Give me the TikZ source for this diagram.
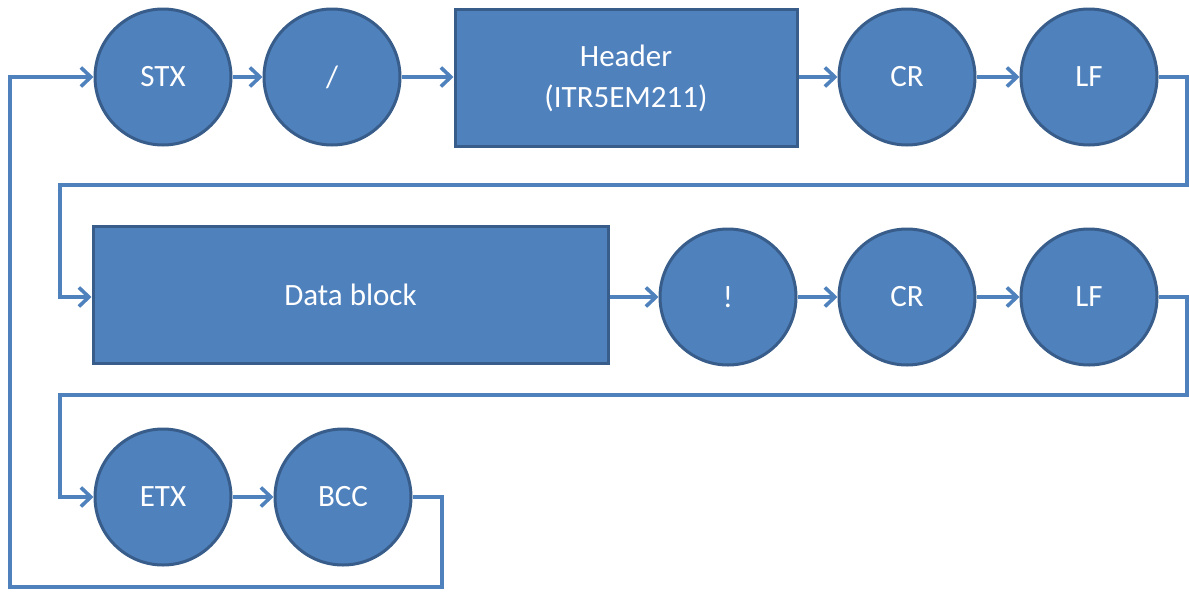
\documentclass[tikz,border=0pt]{standalone}
\usepackage{fontspec}
\setmainfont{Carlito}
\usetikzlibrary{arrows.meta}
\definecolor{boxfill}{HTML}{4F81BD}
\definecolor{boxline}{HTML}{385D8A}
\definecolor{wire}{HTML}{4F81BD}
\begin{document}
\begin{tikzpicture}[x=1pt,y=-1pt,
  token/.style={circle,draw=boxline,fill=boxfill,line width=3pt,
    minimum size=136pt,inner sep=0pt,text=white,font=\fontsize{31}{41}\selectfont},
  block/.style={rectangle,draw=boxline,fill=boxfill,line width=3pt,
    inner sep=0pt,text=white,align=center,font=\fontsize{31}{41}\selectfont},
  flow/.style={draw=wire,line width=3.6pt,-{Straight Barb[length=10pt,width=19pt,line width=3.6pt]}},
  wireline/.style={draw=wire,line width=3.6pt}]
\useasboundingbox (0,0) rectangle (1189,592);

% first row
\node[token] (stx) at (163,77) {STX};
\node[token] (slash) at (332,77) {/};
\node[block,minimum width=342pt,minimum height=137pt] (header) at (626,78)
  {Header\\(ITR5EM211)};
\node[token] (cr1) at (907,77) {CR};
\node[token] (lf1) at (1089,77) {LF};

% second row
\node[block,minimum width=515pt,minimum height=137pt] (data) at (350.5,295) {Data block};
\node[token] (bang) at (728,297) {!};
\node[token] (cr2) at (907,297) {CR};
\node[token] (lf2) at (1089,297) {LF};

% third row
\node[token] (etx) at (163,497) {ETX};
\node[token] (bcc) at (343,497) {BCC};

% turning points of the return wires
\coordinate (r1a) at (1187,77);
\coordinate (r1b) at (1187,185);
\coordinate (r1c) at (60,185);
\coordinate (r1d) at (60,297);
\coordinate (r2a) at (1187,297);
\coordinate (r2b) at (1187,395);
\coordinate (r2c) at (60,395);
\coordinate (r2d) at (60,497);
\coordinate (r3a) at (442,497);
\coordinate (r3b) at (442,587);
\coordinate (r3c) at (10,587);
\coordinate (r3d) at (10,77);

% straight links
\draw[flow] (stx.east) -- (slash.west);
\draw[flow] (slash.east) -- (header.west |- slash.east);
\draw[flow] (header.east |- cr1.west) -- (cr1.west);
\draw[flow] (cr1.east) -- (lf1.west);
\draw[flow] (data.east |- bang.west) -- (bang.west);
\draw[flow] (bang.east) -- (cr2.west);
\draw[flow] (cr2.east) -- (lf2.west);
\draw[flow] (etx.east) -- (bcc.west);

% wrap-around links
\draw[flow] (lf1.east) -- (r1a) -- (r1b) -- (r1c) -- (r1d) -- (data.west |- r1d);
\draw[flow] (lf2.east) -- (r2a) -- (r2b) -- (r2c) -- (r2d) -- (etx.west);
\draw[flow] (bcc.east) -- (r3a) -- (r3b) -- (r3c) -- (r3d) -- (stx.west);
\end{tikzpicture}
\end{document}
